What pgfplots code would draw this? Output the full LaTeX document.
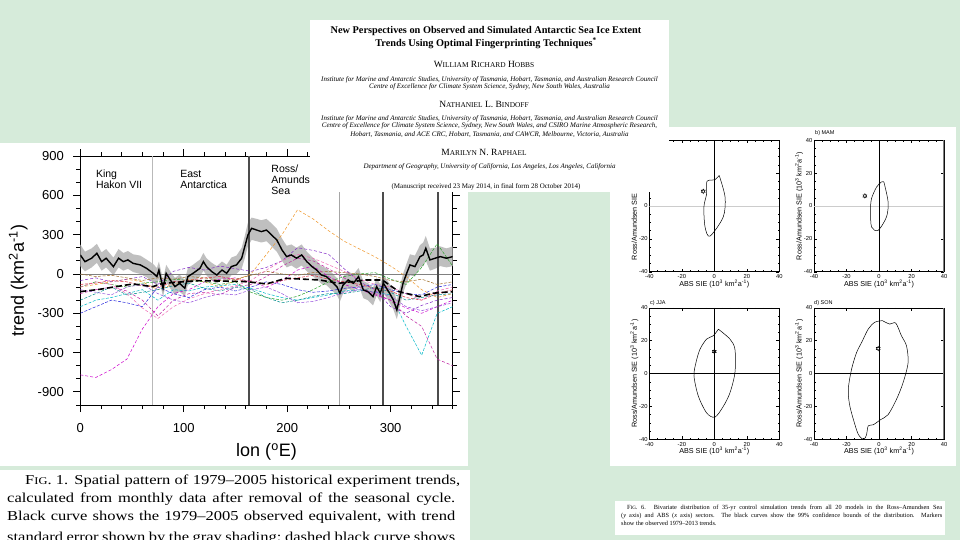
\documentclass[border=0pt]{standalone}
\usepackage{fontspec}
\setmainfont{Liberation Serif}
\newfontfamily\hv{Liberation Sans}
\usepackage{pgfplots}
\pgfplotsset{compat=1.18}
\usepackage{pgfplotstable}

\definecolor{bg}{RGB}{214,235,218}
\definecolor{cMag}{RGB}{205,0,205}
\definecolor{cOra}{RGB}{240,150,40}
\definecolor{cCya}{RGB}{0,185,200}
\definecolor{cGre}{RGB}{40,160,40}
\definecolor{cBlu}{RGB}{40,40,220}
\definecolor{cPur}{RGB}{130,40,200}
\definecolor{cRed}{RGB}{220,40,60}
\definecolor{cMa2}{RGB}{190,30,160}
\definecolor{cBro}{RGB}{160,110,40}
\definecolor{cTea}{RGB}{0,140,140}
\definecolor{cVio}{RGB}{150,80,220}
\definecolor{cPin}{RGB}{240,100,180}

\newcommand\sm[1]{{\fontsize{7.4}{7.4}\selectfont #1}}

% observed trend
\pgfplotstableread{
x obs
0 145
4.5 94
11 120
16 158
20.6 94
25 120
32 56
37 120
41.6 94
46 107
51 81
58 69
64 43
70.6 5
74 -20
76 30
80 -109
83 5
87 -46
91.5 -97
96 -71
101 -109
104 -20
109 5
115.7 43
119 94
122 56
127 18
132 -8
137 30
141.5 5
146 56
151 69
156 120
159 208
162 297
165.6 348
170.5 335
175 323
180 335
185 297
190 259
195 183
199.5 132
204 145
209 120
214 145
219 94
224 56
228.5 30
233 -8
238 -20
243 -58
248 -97
251 -147
254 -84
259 -46
264 -71
269 -20
273.6 -122
278 -135
283 -173
286.5 -97
290 -147
293 -71
296 -109
299 -147
302.6 -198
306 -275
309 -173
312 -71
315.5 5
318.7 69
323.5 56
328.4 132
331.5 145
334 196
338 107
343 120
348 132
354 120
360 132
}\obstab

% standard-error band outline: upper edge west->east, lower edge east->west
\pgfplotstableread{
x y
0 225
4.5 170
11 195
16 230
20.6 165
25 190
32 125
37 190
41.6 160
46 175
51 150
58 140
64 110
70.6 75
74 45
76 95
80 -45
83 70
87 20
91.5 -30
96 -5
101 -45
104 45
109 70
115.7 110
119 160
122 120
127 85
132 60
137 95
141.5 70
146 125
151 140
156 200
159 290
162 390
165.6 430
170.5 420
175 410
180 420
185 385
190 345
195 270
199.5 215
204 225
209 200
214 225
219 170
224 130
228.5 100
233 60
238 45
243 10
248 -30
251 -80
254 -20
259 20
264 -5
269 45
273.6 -55
278 -70
283 -105
286.5 -30
290 -80
293 0
296 -40
299 -75
302.6 -125
306 -200
309 -100
312 0
315.5 80
318.7 150
323.5 140
328.4 220
331.5 240
334 290
338 195
343 200
348 210
354 195
360 210
360 60
354 50
348 60
343 40
338 25
334 100
331.5 60
328.4 50
323.5 -20
318.7 -10
315.5 -70
312 -145
309 -245
306 -345
302.6 -270
299 -220
296 -180
293 -140
290 -215
286.5 -165
283 -240
278 -200
273.6 -185
269 -85
264 -135
259 -110
254 -150
251 -210
248 -160
243 -125
238 -85
233 -75
228.5 -40
224 -15
219 20
214 65
209 40
204 65
199.5 50
195 100
190 170
185 210
180 250
175 240
170.5 250
165.6 260
162 210
159 120
156 40
151 0
146 -10
141.5 -60
137 -35
132 -75
127 -50
122 -10
119 25
115.7 -20
109 -60
104 -85
101 -170
96 -135
91.5 -160
87 -110
83 -60
80 -175
76 -35
74 -85
70.6 -65
64 -25
58 0
51 15
46 40
41.6 25
37 50
32 -10
25 50
20.6 25
16 85
11 50
4.5 20
0 60
}\bandtab

\pgfplotstableread{
x s1 s2 s3 s4 s5 s6 s7 s8 s9 s10 s11 s12
0 -770 -100 -250 -100 -300 -50 -80 -150 0 -200 -120 -100
15 -790 -80 -200 -60 -250 -30 -70 -120 -20 -150 -140 -60
30 -730 -60 -180 -80 -200 -60 -50 -100 -10 -100 -160 -80
45 -650 -40 -150 -100 -220 -40 -60 -130 -30 -160 -100 -150
60 -420 -60 -120 -70 -250 -20 -90 -200 -50 -140 -80 -260
75 -250 -120 -200 -60 -100 -80 -100 -320 -30 -120 -150 -340
90 -150 -80 -120 -40 -150 20 -60 -200 -40 -90 -200 -250
105 -120 -40 -130 -50 -180 50 -50 -150 -20 -70 -220 -190
120 -60 -60 -100 -60 -120 30 -30 -140 -30 -110 -180 -150
135 -40 -100 -90 -80 -100 60 -20 -160 -50 -130 -150 -120
150 -30 -50 -80 -60 -130 40 -40 -100 -40 -100 -160 -90
165 -60 0 -110 -140 -100 20 -60 -80 -10 -120 -120 -50
180 -100 150 -150 -180 -60 50 -80 -20 20 -180 -100 30
195 -50 300 -180 -200 -80 100 -50 60 0 -220 -150 100
210 30 490 -200 -170 -120 200 -30 120 -10 -200 -220 150
225 60 420 -180 -120 -140 180 -10 100 10 -170 -210 120
240 -20 330 -160 -60 -130 150 -40 40 20 -150 -180 70
255 -80 250 -130 -20 -110 40 -60 -30 10 -150 -140 20
270 -120 190 -120 0 -100 -60 -80 -100 0 -130 -120 -40
285 -160 130 -140 10 -80 -120 -110 -150 -20 -100 -140 -80
300 -200 60 -160 -40 -120 -250 -130 -200 -50 -140 -170 -100
315 -260 -20 -400 -80 -150 -300 -180 -320 -60 -200 -250 -150
330 -300 -120 -620 50 -160 -240 -200 -400 -40 -180 -280 -200
345 -250 -180 -300 230 -100 -200 -150 -650 -80 -160 -250 -130
360 -200 -150 -250 60 -80 -180 -120 -700 -60 -150 -220 -100
}\modtab

\pgfplotsset{
  smallpanel/.style={
    scale only axis, width=130pt, height=131.5pt,
    xmin=-40, xmax=40, ymin=-40, ymax=40,
    xtick={-40,-20,...,40}, ytick={-40,-20,...,40},
    minor tick num=3, tick align=inside, tick pos=both,
    major tick length=3pt, minor tick length=1.5pt,
    axis line style={line width=0.6pt},
    tick style={line width=0.4pt, black},
    /pgf/number format/assume math mode=true,
    ticklabel style={font=\hv\fontsize{5.8}{5.8}\selectfont, inner sep=1.5pt},
    xticklabel style={yshift=-1pt},
    xlabel={ABS SIE (10\textsuperscript{3} km\textsuperscript{2}a\textsuperscript{-1})},
    ylabel={Ross/Amundsen SIE (10\textsuperscript{3} km\textsuperscript{2}a\textsuperscript{-1})},
    label style={font=\hv\fontsize{7.2}{7.2}\selectfont},
    xlabel style={at={(axis description cs:0.5,-0.09)}, anchor=center},
    ylabel style={at={(axis description cs:-0.115,0.5)}, anchor=center},
    clip=true,
  },
  contour/.style={black, line width=0.5pt, smooth, tension=0.5, no markers},
}

\begin{document}
\begin{tikzpicture}
\begin{scope}[x=1pt,y=-1pt]
\fill[bg] (0,0) rectangle (960,540);
\fill[white] (0,143) rectangle (468,466);
\fill[white] (610,127) rectangle (956,466);
\end{scope}

% ---------------- main chart ----------------
\begin{axis}[
  at={(80.3pt,-405pt)}, anchor=south west,
  scale only axis, width=372.4pt, height=249pt,
  xmin=0, xmax=360, ymin=-1000, ymax=900,
  xtick={0,100,200,300}, minor xtick={0,20,...,360},
  ytick={-900,-600,...,900}, minor ytick={-1000,-900,...,900},
  tick align=outside, tick pos=both,
  major tick length=7pt, minor tick length=4pt,
  axis line style={black, line width=1pt},
  tick style={black, line width=0.8pt},
  /pgf/number format/assume math mode=true,
  ticklabel style={font=\hv\fontsize{13}{13}\selectfont},
  xticklabel style={yshift=-8pt},
  yticklabel style={xshift=-6pt},
  xlabel={lon (\textsuperscript{o}E)},
  ylabel={trend (km\textsuperscript{2}a\textsuperscript{-1})},
  label style={font=\hv\fontsize{18}{18}\selectfont},
  xlabel style={at={(axis description cs:0.5,-0.19)}, anchor=center},
  ylabel style={at={(axis description cs:-0.167,0.5)}, anchor=center},
  clip=true,
]
\addplot[fill=gray!50, draw=none, forget plot] table[x=x, y=y] {\bandtab} -- cycle;

\draw[gray, line width=0.5pt] (0,0) -- (360,0);
\draw[gray!55, line width=1.3pt] (70,-1000) -- (70,900);
\draw[gray!60!black, line width=1.6pt] (163,-1000) -- (163,900);
\draw[gray!70, line width=0.8pt] (250,-1000) -- (250,900);
\draw[gray!60!black, line width=1.8pt] (293,-1000) -- (293,900);
\draw[gray!60!black, line width=1.8pt] (346,-1000) -- (346,900);

\addplot[cMag, line width=0.5pt, dash pattern=on 3pt off 2pt] table[x=x,y=s1] {\modtab};
\addplot[cOra, line width=0.5pt, dash pattern=on 3pt off 2pt] table[x=x,y=s2] {\modtab};
\addplot[cCya, line width=0.5pt, dash pattern=on 3pt off 1.5pt] table[x=x,y=s3] {\modtab};
\addplot[cGre, line width=0.5pt, dash pattern=on 3pt off 1.5pt] table[x=x,y=s4] {\modtab};
\addplot[cBlu, line width=0.5pt, dash pattern=on 3pt off 1.5pt] table[x=x,y=s5] {\modtab};
\addplot[cPur, line width=0.5pt, dash pattern=on 3pt off 2pt] table[x=x,y=s6] {\modtab};
\addplot[cRed, line width=0.5pt, dash pattern=on 3pt off 1.5pt] table[x=x,y=s7] {\modtab};
\addplot[cMa2, line width=0.5pt, dash pattern=on 3pt off 2pt] table[x=x,y=s8] {\modtab};
\addplot[cBro, line width=0.5pt, dash pattern=on 3pt off 1.5pt] table[x=x,y=s9] {\modtab};
\addplot[cTea, line width=0.5pt, dash pattern=on 3pt off 1.5pt] table[x=x,y=s10] {\modtab};
\addplot[cVio, line width=0.5pt, dash pattern=on 3pt off 1.5pt] table[x=x,y=s11] {\modtab};
\addplot[cPin, line width=0.5pt, dash pattern=on 3pt off 2pt] table[x=x,y=s12] {\modtab};

\addplot[black, line width=1.6pt, dash pattern=on 6pt off 3pt] coordinates {
(0,-135) (19,-117) (51,-76) (70,-97) (80,-71) (115,-51) (160,-58) (180,-76)
(199,-33) (231,-46) (250,-71) (276,-46) (292,-46) (308,-135) (328,-173) (341,-147) (360,-135)};

\addplot[black, line width=1.4pt] table[x=x, y=obs] {\obstab};

\node[anchor=north west, align=left, inner sep=0pt, font=\hv\fontsize{10.5}{11}\selectfont] at (15,795) {King\\Hakon VII};
\node[anchor=north west, align=left, inner sep=0pt, font=\hv\fontsize{10.5}{11}\selectfont] at (96.5,795) {East\\Antarctica};
\node[anchor=north west, align=left, inner sep=0pt, font=\hv\fontsize{10.5}{11}\selectfont] at (184.6,830) {Ross/\\Amundsen\\Sea};
\end{axis}

% ---------------- small panels ----------------
\begin{axis}[smallpanel, at={(649.3pt,-271.7pt)}, anchor=south west]
\draw[gray!40, line width=0.4pt] (-40,0) -- (40,0);
\draw[black, line width=0.6pt] (0,-40) -- (0,40);
\draw[black, line width=1.4pt] (-40,40) -- (40,40);
\addplot[contour] coordinates {(3,18.6) (6.6,5.5) (5.5,-6.7) (-2.7,-18.4) (-5.7,-12.8) (-6.4,-0.6) (-4.7,7.5) (-4.5,15) (0.4,16) (3,18.6)};
\addplot[only marks, mark=triangle, mark size=2.3pt, mark options={black, line width=0.4pt}] coordinates {(-6.8,8.9)};
\addplot[only marks, mark=triangle, mark size=2.3pt, mark options={black, line width=0.4pt, rotate=180}] coordinates {(-6.8,8.9)};
\end{axis}

\begin{axis}[smallpanel, at={(814pt,-271.7pt)}, anchor=south west]
\draw[gray!40, line width=0.4pt] (-40,0) -- (40,0);
\draw[black, line width=0.6pt] (0,-40) -- (0,40);
\draw[black, line width=1.4pt] (-40,40) -- (40,40);
\draw[gray, line width=1.6pt] (40,-40) -- (40,40);
\addplot[contour] coordinates {(3,14.6) (5.6,2.4) (4.6,-6.7) (-0.5,-14.8) (-4.6,-12.8) (-5.2,-2.6) (-4.6,4.5) (-1.5,11.5) (1.5,14.6) (3,14.6)};
\addplot[only marks, mark=triangle, mark size=2.3pt, mark options={black, line width=0.4pt}] coordinates {(-8.7,6.1)};
\addplot[only marks, mark=triangle, mark size=2.3pt, mark options={black, line width=0.4pt, rotate=180}] coordinates {(-8.7,6.1)};
\end{axis}

\begin{axis}[smallpanel, at={(649.3pt,-439.3pt)}, anchor=south west]
\draw[black, line width=0.6pt] (-40,0) -- (40,0);
\draw[black, line width=0.6pt] (0,-40) -- (0,40);
\addplot[contour] coordinates {(2.5,27) (9.6,21) (12.7,14.8) (12.7,0.5) (9.6,-11.8) (5.5,-20) (0.4,-26.5) (-4.7,-24) (-9.8,-13.8) (-12.5,-1.5) (-11.3,6.6) (-8.8,14.8) (-4.7,21) (-0.6,23) (2.5,27)};
\addplot[only marks, mark=triangle, mark size=2.3pt, mark options={black, line width=0.4pt}] coordinates {(0,13.4)};
\addplot[only marks, mark=triangle, mark size=2.3pt, mark options={black, line width=0.4pt, rotate=180}] coordinates {(0,13.4)};
\end{axis}

\begin{axis}[smallpanel, at={(814pt,-439.3pt)}, anchor=south west]
\draw[black, line width=0.6pt] (-40,0) -- (40,0);
\draw[black, line width=0.6pt] (0,-40) -- (0,40);
\draw[gray, line width=1.6pt] (40,-40) -- (40,40);
\addplot[contour] coordinates {(2.1,32.2) (6.6,30.1) (10.3,30.7) (13.8,23) (16.9,16.9) (17.9,6.6) (14.8,-5.6) (10.7,-15.8) (5.6,-25) (0.9,-28.1) (-3.6,-31.2) (-6.6,-31.8) (-7.7,-37.3) (-9.3,-40) (-11.8,-38.4) (-13.8,-34.3) (-17.9,-20) (-18.9,-9.7) (-16.9,2.6) (-13.8,12.8) (-10.7,18.9) (-6.6,27.1) (-2.6,31.2) (2.1,32.2)};
\addplot[only marks, mark=triangle, mark size=2.3pt, mark options={black, line width=0.4pt}] coordinates {(-0.5,15.2)};
\addplot[only marks, mark=triangle, mark size=2.3pt, mark options={black, line width=0.4pt, rotate=180}] coordinates {(-0.5,15.2)};
\end{axis}

% ---------------- overlays ----------------
\begin{scope}[x=1pt,y=-1pt]
\node[anchor=west, inner sep=0pt, font=\hv\fontsize{5.5}{5.5}\selectfont] at (815,133) {b) MAM};
\node[anchor=west, inner sep=0pt, font=\hv\fontsize{5.5}{5.5}\selectfont] at (650,303) {c) JJA};
\node[anchor=west, inner sep=0pt, font=\hv\fontsize{5.5}{5.5}\selectfont] at (814,303) {d) SON};

% title box
\fill[white] (310,20) rectangle (669,192);
\node[inner sep=0pt, font=\bfseries\fontsize{10.3}{10.3}\selectfont] at (486,31) {New Perspectives on Observed and Simulated Antarctic Sea Ice Extent};
\node[inner sep=0pt, font=\bfseries\fontsize{10.3}{10.3}\selectfont] at (486,43.5) {Trends Using Optimal Fingerprinting Techniques\textsuperscript{*}};
\node[inner sep=0pt, font=\fontsize{9.5}{9.5}\selectfont] at (484,64) {W\sm{ILLIAM} R\sm{ICHARD} H\sm{OBBS}};
\node[inner sep=0pt, font=\itshape\fontsize{7}{7}\selectfont] at (489.5,79.5) {Institute for Marine and Antarctic Studies, University of Tasmania, Hobart, Tasmania, and Australian Research Council};
\node[inner sep=0pt, font=\itshape\fontsize{7}{7}\selectfont] at (489.5,87) {Centre of Excellence for Climate System Science, Sydney, New South Wales, Australia};
\node[inner sep=0pt, font=\fontsize{9.5}{9.5}\selectfont] at (484,104) {N\sm{ATHANIEL} L. B\sm{INDOFF}};
\node[inner sep=0pt, font=\itshape\fontsize{7}{7}\selectfont] at (489.5,118.5) {Institute for Marine and Antarctic Studies, University of Tasmania, Hobart, Tasmania, and Australian Research Council};
\node[inner sep=0pt, font=\itshape\fontsize{7}{7}\selectfont] at (489.5,126) {Centre of Excellence for Climate System Science, Sydney, New South Wales, and CSIRO Marine Atmospheric Research,};
\node[inner sep=0pt, font=\itshape\fontsize{7}{7}\selectfont] at (489.5,135) {Hobart, Tasmania, and ACE CRC, Hobart, Tasmania, and CAWCR, Melbourne, Victoria, Australia};
\node[inner sep=0pt, font=\fontsize{9.5}{9.5}\selectfont] at (484,152) {M\sm{ARILYN} N. R\sm{APHAEL}};
\node[inner sep=0pt, font=\itshape\fontsize{7}{7}\selectfont] at (489.5,167) {Department of Geography, University of California, Los Angeles, Los Angeles, California};
\node[inner sep=0pt, font=\fontsize{7}{7}\selectfont] at (486,187) {(Manuscript received 23 May 2014, in final form 28 October 2014)};

% bottom-left caption
\fill[white] (0,470) rectangle (470,540);
\node[anchor=base west, inner sep=0pt, font=\fontsize{13}{13}\selectfont] at (25,484) {\scalebox{1.27}[1.05]{\makebox[342.5pt][s]{F{\fontsize{9.8}{9.8}\selectfont IG}. 1. Spatial pattern of 1979--2005 historical experiment trends,}}};
\node[anchor=base west, inner sep=0pt, font=\fontsize{13}{13}\selectfont] at (7,502.5) {\scalebox{1.27}[1.05]{\makebox[352.8pt][s]{calculated from monthly data after removal of the seasonal cycle.}}};
\node[anchor=base west, inner sep=0pt, font=\fontsize{13}{13}\selectfont] at (7,520.5) {\scalebox{1.27}[1.05]{\makebox[352.8pt][s]{Black curve shows the 1979--2005 observed equivalent, with trend}}};
\node[anchor=base west, inner sep=0pt, font=\fontsize{13}{13}\selectfont] at (7,541) {\scalebox{1.27}[1.05]{\makebox[352.8pt][s]{standard error shown by the gray shading; dashed black curve shows}}};

% bottom-right caption
\fill[white] (615,501) rectangle (945,535);
\node[anchor=base west, inner sep=0pt, font=\fontsize{6.3}{6.3}\selectfont] at (627,509.5) {\makebox[315pt][s]{F{\fontsize{5}{5}\selectfont IG}. 6. Bivariate distribution of 35-yr control simulation trends from all 20 models in the Ross--Amundsen Sea}};
\node[anchor=base west, inner sep=0pt, font=\fontsize{6.3}{6.3}\selectfont] at (621,517) {\makebox[321pt][s]{(\textit{y} axis) and ABS (\textit{x} axis) sectors. The black curves show the 99\% confidence bounds of the distribution. Markers}};
\node[anchor=base west, inner sep=0pt, font=\fontsize{6.3}{6.3}\selectfont] at (621,525) {show the observed 1979--2013 trends.};
\end{scope}
\pgfresetboundingbox
\useasboundingbox (0pt,0pt) rectangle (960pt,-540pt);
\end{tikzpicture}
\end{document}
